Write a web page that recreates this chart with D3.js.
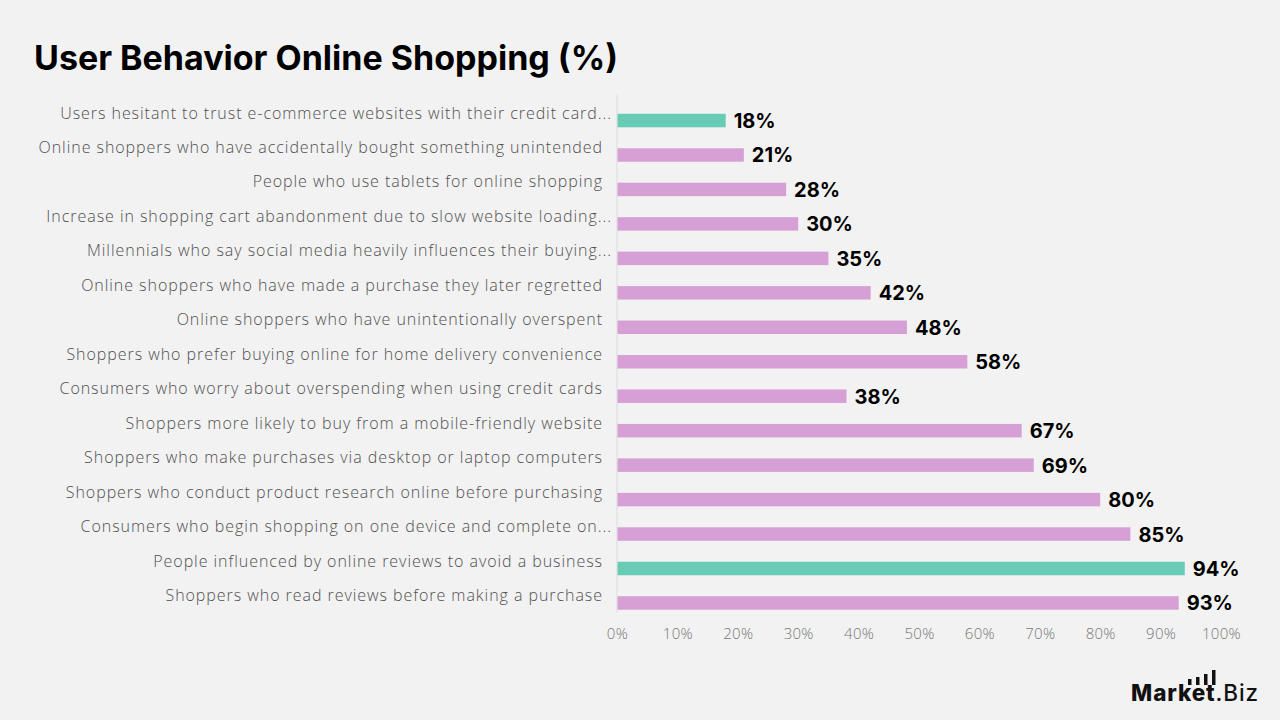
<!DOCTYPE html>
<html>
<head>
<meta charset="utf-8">
<script src="https://cdn.jsdelivr.net/npm/d3@7"></script>
<style>
  html, body { margin: 0; padding: 0; background: #f2f2f2; }
  svg { display: block; }
  .title { font-family: Inter, "Noto Sans", sans-serif; font-weight: 700; font-size: 34px; fill: #000; }
  .cat { font-family: "Open Sans", "Noto Sans", sans-serif; font-weight: 300; font-size: 16px; fill: #505050; letter-spacing: 0.95px; }
  .val { font-family: Inter, "Noto Sans", sans-serif; font-weight: 700; font-size: 20px; fill: #000; }
  .x-axis text { font-family: "Open Sans", "Noto Sans", sans-serif; font-weight: 300; font-size: 15px; fill: #777; letter-spacing: 0.3px; }
</style>
</head>
<body>
<div id="chart"></div>
<script>
const categories = [
  "Users hesitant to trust e-commerce websites with their credit card...",
  "Online shoppers who have accidentally bought something unintended",
  "People who use tablets for online shopping",
  "Increase in shopping cart abandonment due to slow website loading...",
  "Millennials who say social media heavily influences their buying...",
  "Online shoppers who have made a purchase they later regretted",
  "Online shoppers who have unintentionally overspent",
  "Shoppers who prefer buying online for home delivery convenience",
  "Consumers who worry about overspending when using credit cards",
  "Shoppers more likely to buy from a mobile-friendly website",
  "Shoppers who make purchases via desktop or laptop computers",
  "Shoppers who conduct product research online before purchasing",
  "Consumers who begin shopping on one device and complete on...",
  "People influenced by online reviews to avoid a business",
  "Shoppers who read reviews before making a purchase"
];
const values = [18, 21, 28, 30, 35, 42, 48, 58, 38, 67, 69, 80, 85, 94, 93];
const highlighted = [
  "Users hesitant to trust e-commerce websites with their credit card...",
  "People influenced by online reviews to avoid a business"
];
const xTicks = [0, 10, 20, 30, 40, 50, 60, 70, 80, 90, 100];

const W = 1280, H = 720;
const COL = { base: "#d6a0d6", hi: "#68cbb6", axis: "#dcdcdc" };

const svg = d3.select("#chart").append("svg").attr("width", W).attr("height", H);

svg.append("text").attr("class", "title").attr("x", 34).attr("y", 70)
  .text("User Behavior Online Shopping (%)");

const x = d3.scaleLinear().domain([0, 100]).range([617, 1221]);
const y = d3.scalePoint().domain(categories).range([103.3, 620.2]).padding(0.5);
const barH = 13.5;

const rows = categories.map((c, i) => ({ cat: c, v: values[i] }));

// left axis line
svg.append("line")
  .attr("x1", x(0)).attr("x2", x(0)).attr("y1", 95).attr("y2", 612)
  .attr("stroke", COL.axis).attr("stroke-width", 1);

svg.append("g").selectAll("rect").data(rows).join("rect")
  .attr("x", x(0) + 0.5)
  .attr("y", (d) => y(d.cat) - barH / 2)
  .attr("width", (d) => x(d.v) - x(0) - 0.5)
  .attr("height", barH)
  .attr("fill", (d) => (highlighted.includes(d.cat) ? COL.hi : COL.base));

svg.append("g").selectAll("text").data(rows).join("text")
  .attr("class", "val")
  .attr("x", (d) => x(d.v) + 8)
  .attr("y", (d) => y(d.cat) + 7.5)
  .text((d) => d.v + "%");

// category labels sit a bit above their bars; clipped ones run past the others
svg.append("g").selectAll("text").data(rows).join("text")
  .attr("class", "cat")
  .attr("text-anchor", "end")
  .attr("x", (d) => (d.cat.endsWith("...") ? 612 : 603))
  .attr("y", (d) => y(d.cat) - 2)
  .text((d) => d.cat);

const xAxis = d3.axisBottom(x).tickValues(xTicks).tickFormat((d) => d + "%").tickSize(0).tickPadding(0);
svg.append("g").attr("class", "x-axis").attr("transform", "translate(0,628)")
  .call(xAxis)
  .call((g) => g.select(".domain").remove())
  .selectAll("text").attr("dy", "0.71em");

// logo
const logo = svg.append("g").attr("transform", "translate(1131,701)");
logo.append("text").attr("x", 0).attr("y", 0)
  .style("font-family", "Inter, sans-serif").style("font-weight", 800).style("font-size", "22.5px")
  .style("letter-spacing", "0.9px").attr("fill", "#111")
  .text("Market")
  .append("tspan").style("font-weight", 500).text(".Biz");
const logoBars = [6, 8, 11, 15];
logo.selectAll("rect.lb").data(logoBars).join("rect").attr("class", "lb")
  .attr("x", (d, i) => 57 + i * 8).attr("y", (d) => -16 - d)
  .attr("width", 3.5).attr("height", (d) => d).attr("fill", "#111");
</script>
</body>
</html>
